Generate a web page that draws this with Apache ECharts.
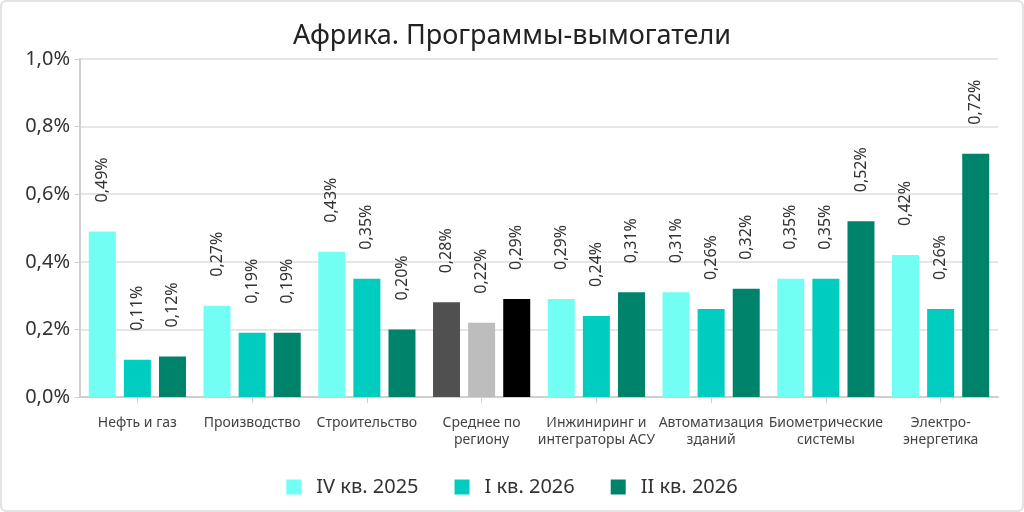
<!DOCTYPE html>
<html>
    <head>
        <meta charset="utf-8">
        <script src="https://cdn.jsdelivr.net/npm/echarts@6/dist/echarts.min.js"></script>
    </head>
    <body>
        <style>
            html, body {
                width: 100%;
                height: 100%;
                margin: 0;
                background: #fff;
            }
            #main {
                position: absolute;
                left: 0; top: 0;
                width: 1024px;
                height: 512px;
                box-sizing: border-box;
                border: 2px solid #e3e3e3;
                border-radius: 6px;
            }
        </style>
        <div id='main'></div>
        <script>
            var categories = ['Нефть и газ', 'Производство', 'Строительство', 'Среднее по\nрегиону',
                'Инжиниринг и\nинтеграторы АСУ', 'Автоматизация\nзданий', 'Биометрические\nсистемы', 'Электро-\nэнергетика'];
            var seriesNames = ['IV кв. 2025', 'I кв. 2026', 'II кв. 2026'];
            var q4_2025 = [0.49, 0.27, 0.43, 0.28, 0.29, 0.31, 0.35, 0.42];
            var q1_2026 = [0.11, 0.19, 0.35, 0.22, 0.24, 0.26, 0.35, 0.26];
            var q2_2026 = [0.12, 0.19, 0.20, 0.29, 0.31, 0.32, 0.52, 0.72];
            var colors = ['#72fef3', '#00ccbf', '#00836b'];
            var avgColors = ['#505050', '#bdbdbd', '#000000'];
            var avgIndex = 3;

            var chart = echarts.init(document.getElementById('main'));
            var font = 'Noto Sans';

            function fmt(v) {
                return v.toFixed(2).replace('.', ',') + '%';
            }

            var allData = [q4_2025, q1_2026, q2_2026];
            var series = allData.map(function (arr, s) {
                return {
                    name: seriesNames[s],
                    type: 'bar',
                    barWidth: 27,
                    barGap: '30%',
                    itemStyle: { color: colors[s] },
                    label: {
                        show: true,
                        position: 'top',
                        rotate: 90,
                        align: 'left',
                        verticalAlign: 'middle',
                        distance: 29,
                        fontFamily: font,
                        fontSize: 16,
                        color: '#333',
                        formatter: function (p) { return fmt(p.value); }
                    },
                    data: arr.map(function (v, i) {
                        if (i === avgIndex) {
                            return { value: v, itemStyle: { color: avgColors[s] } };
                        }
                        return v;
                    })
                };
            });

            var option = {
                animation: false,
                title: {
                    text: 'Африка. Программы-вымогатели',
                    left: 'center',
                    top: 16,
                    textStyle: { fontFamily: font, fontSize: 27, fontWeight: 'normal', color: '#222' }
                },
                legend: {
                    bottom: 8,
                    left: 'center',
                    icon: 'rect',
                    itemWidth: 15,
                    itemHeight: 15,
                    itemGap: 36,
                    textStyle: { fontFamily: font, fontSize: 20, color: '#333', padding: [0, 0, 0, 10] },
                    data: seriesNames
                },
                grid: { left: 78, right: 24, top: 57, bottom: 113 },
                xAxis: {
                    type: 'category',
                    data: categories,
                    axisLine: { lineStyle: { color: '#cfcfcf', width: 2 } },
                    axisTick: { show: true, alignWithLabel: true, length: 6, lineStyle: { color: '#cfcfcf' } },
                    axisLabel: {
                        interval: 0,
                        fontFamily: font,
                        fontSize: 14,
                        color: '#444',
                        lineHeight: 17,
                        margin: 18
                    }
                },
                yAxis: {
                    type: 'value',
                    min: 0,
                    max: 1.0,
                    interval: 0.2,
                    axisLine: { show: true, lineStyle: { color: '#cfcfcf', width: 2 } },
                    axisTick: { show: true, length: 5, lineStyle: { color: '#cfcfcf' } },
                    splitLine: { lineStyle: { color: '#e6e6e6', width: 2 } },
                    axisLabel: {
                        fontFamily: font,
                        fontSize: 20,
                        color: '#333',
                        margin: 10,
                        formatter: function (v) { return v.toFixed(1).replace('.', ',') + '%'; }
                    }
                },
                series: series
            };
            chart.setOption(option);
        </script>
    </body>
</html>
